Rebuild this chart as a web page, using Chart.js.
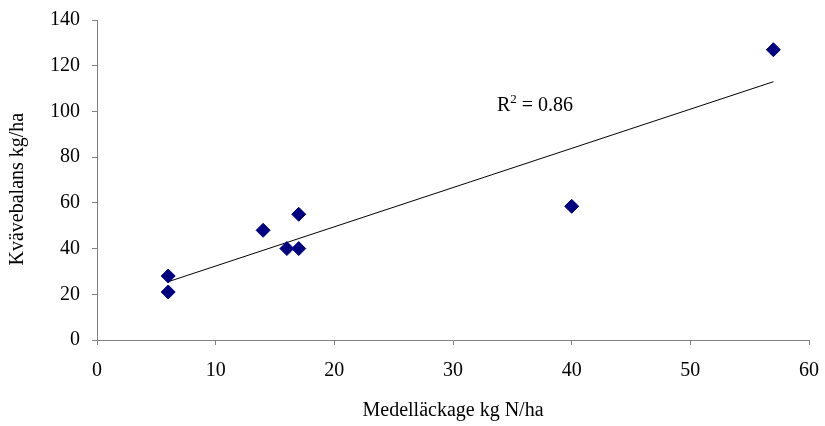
<!DOCTYPE html>
<html>
<head>
<meta charset="utf-8">
<script src="https://cdn.jsdelivr.net/npm/chart.js@4"></script>
<style>
  html, body { margin: 0; padding: 0; background: #fff; }
  #wrap { width: 825px; height: 426px; }
</style>
</head>
<body>
<div id="wrap"><canvas id="chart" width="825" height="426"></canvas></div>
<script>
// leakage (x) vs nitrogen balance (y)
const leakage = [6, 6, 14, 16, 17, 17, 40, 57];
const balance = [28, 21, 48, 40, 40, 55, 58.5, 127];

// linear trendline end points
const trendX = [6, 57];
const trendY = [25.5, 113];
const rSquared = "0.86";

const xTitle = "Medelläckage kg N/ha";
const yTitle = "Kvävebalans kg/ha";

const serif = "'Liberation Serif', 'Times New Roman', serif";
const axisGrey = "#808080";

// R² label and the y axis title (sits a bit below the axis middle)
const extraText = {
  id: "extraText",
  afterDatasetsDraw(chart) {
    const { ctx, scales } = chart;
    const x = scales.x.getPixelForValue(33.7);
    const y = scales.y.getPixelForValue(100);
    ctx.save();
    ctx.fillStyle = "#000";
    ctx.font = "20px " + serif;
    ctx.textAlign = "left";
    ctx.textBaseline = "alphabetic";
    ctx.fillText("R", x, y);
    let w = ctx.measureText("R").width;
    ctx.font = "13px " + serif;
    ctx.fillText("2", x + w, y - 8);
    w += ctx.measureText("2").width;
    ctx.font = "20px " + serif;
    ctx.fillText(" = " + rSquared, x + w, y);

    ctx.translate(18, scales.y.getPixelForValue(66));
    ctx.rotate(-Math.PI / 2);
    ctx.textAlign = "center";
    ctx.textBaseline = "middle";
    ctx.fillText(yTitle, 0, 0);
    ctx.restore();
  }
};

new Chart(document.getElementById("chart"), {
  type: "scatter",
  data: {
    datasets: [
      {
        label: "points",
        data: leakage.map((x, i) => ({ x, y: balance[i] })),
        pointStyle: "rectRot",
        pointRadius: 7,
        pointHoverRadius: 7,
        backgroundColor: "#000080",
        borderColor: "#000080",
        borderWidth: 1
      },
      {
        label: "trend",
        type: "line",
        data: trendX.map((x, i) => ({ x, y: trendY[i] })),
        borderColor: "#000",
        borderWidth: 1,
        pointRadius: 0,
        fill: false
      }
    ]
  },
  options: {
    responsive: false,
    animation: false,
    layout: { autoPadding: false, padding: { top: 20, right: 16, left: 0, bottom: 0 } },
    plugins: { legend: { display: false }, tooltip: { enabled: false } },
    scales: {
      x: {
        type: "linear",
        min: 0,
        max: 60,
        ticks: { stepSize: 10, color: "#000", font: { family: serif, size: 20 }, padding: 14, maxRotation: 0 },
        grid: { drawOnChartArea: false, drawTicks: true, tickLength: 5, color: axisGrey },
        border: { color: axisGrey, width: 1 },
        title: { display: true, text: xTitle, color: "#000", font: { family: serif, size: 20 }, padding: { top: 0, bottom: 3 } },
        afterFit(scale) {
          scale.height = 86;
          scale.paddingLeft = 0;
          scale.paddingRight = 0;
        }
      },
      y: {
        type: "linear",
        min: 0,
        max: 140,
        ticks: { stepSize: 20, color: "#000", font: { family: serif, size: 20 }, padding: 12 },
        grid: { drawOnChartArea: false, drawTicks: true, tickLength: 5, color: axisGrey },
        border: { color: axisGrey, width: 1 },
        afterFit(scale) {
          scale.width = 97;
          scale.paddingTop = 0;
          scale.paddingBottom = 0;
        }
      }
    }
  },
  plugins: [extraText]
});
</script>
</body>
</html>
